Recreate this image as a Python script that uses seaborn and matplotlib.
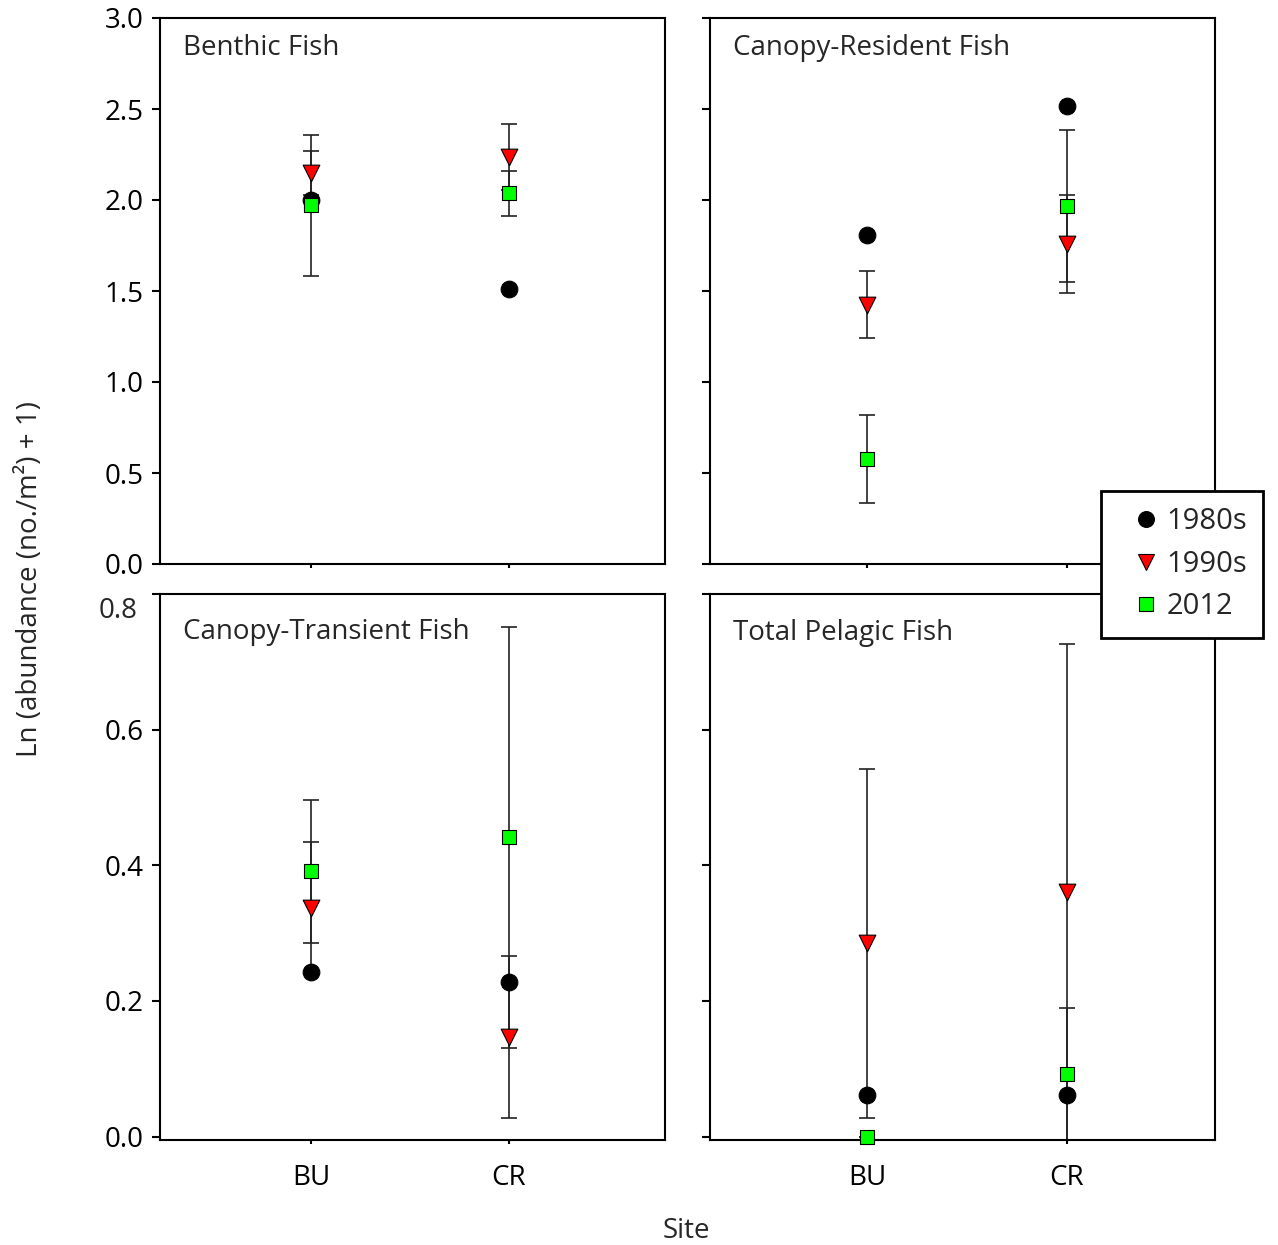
import matplotlib
matplotlib.use("Agg")
import matplotlib.pyplot as plt
from matplotlib.lines import Line2D
import pandas as pd
import seaborn as sns

# ---- data -------------------------------------------------------------
sites = ["BU", "CR"]
periods = ["1980s", "1990s", "2012"]
panels = ["Benthic Fish", "Canopy-Resident Fish",
          "Canopy-Transient Fish", "Total Pelagic Fish"]

# mean Ln(abundance + 1) at BU, CR
benthic_1980s = [2.00, 1.51]
benthic_1990s = [2.15, 2.235]
benthic_2012 = [1.97, 2.037]
resident_1980s = [1.81, 2.515]
resident_1990s = [1.425, 1.76]
resident_2012 = [0.577, 1.967]
transient_1980s = [0.243, 0.228]
transient_1990s = [0.337, 0.147]
transient_2012 = [0.391, 0.441]
pelagic_1980s = [0.062, 0.062]
pelagic_1990s = [0.285, 0.36]
pelagic_2012 = [0.0, 0.092]

# error half-widths (1980s surveys have no error estimate)
benthic_1990s_err = [0.12, 0.18]
benthic_2012_err = [0.385, 0.125]
resident_1990s_err = [0.185, 0.27]
resident_2012_err = [0.24, 0.418]
transient_1990s_err = [0.097, 0.12]
transient_2012_err = [0.106, 0.311]
pelagic_1990s_err = [0.257, 0.367]
pelagic_2012_err = [0.0, 0.097]

series = {
    "Benthic Fish": [(benthic_1980s, None), (benthic_1990s, benthic_1990s_err),
                     (benthic_2012, benthic_2012_err)],
    "Canopy-Resident Fish": [(resident_1980s, None), (resident_1990s, resident_1990s_err),
                             (resident_2012, resident_2012_err)],
    "Canopy-Transient Fish": [(transient_1980s, None), (transient_1990s, transient_1990s_err),
                              (transient_2012, transient_2012_err)],
    "Total Pelagic Fish": [(pelagic_1980s, None), (pelagic_1990s, pelagic_1990s_err),
                           (pelagic_2012, pelagic_2012_err)],
}

rows = []
for panel in panels:
    for period, (means, errs) in zip(periods, series[panel]):
        for i, site in enumerate(sites):
            rows.append({"panel": panel, "period": period, "site": site, "x": i,
                         "mean": means[i],
                         "err": None if errs is None else errs[i]})
df = pd.DataFrame(rows)

# ---- styling ----------------------------------------------------------
sns.set_theme(style="white")
plt.rcParams["font.family"] = ["Open Sans", "DejaVu Sans"]
plt.rcParams["axes.edgecolor"] = "black"
plt.rcParams["axes.linewidth"] = 1.5

colors = {"1980s": "black", "1990s": "#ff0000", "2012": "#00ff00"}
markers = {"1980s": "o", "1990s": "v", "2012": "s"}
msize = {"1980s": 12.0, "1990s": 12.0, "2012": 10.0}   # marker size in points

W, H = 1278, 1245
fig = plt.figure(figsize=(W / 100, H / 100), dpi=100)


def rect(x0, y0, x1, y1):
    return [x0 / W, 1 - y1 / H, (x1 - x0) / W, (y1 - y0) / H]


layout = {
    "Benthic Fish": rect(160, 18, 665, 564),
    "Canopy-Resident Fish": rect(710, 18, 1215, 564),
    "Canopy-Transient Fish": rect(160, 594, 665, 1140),
    "Total Pelagic Fish": rect(710, 594, 1215, 1140),
}
title_y = {"Benthic Fish": 0.945, "Canopy-Resident Fish": 0.945,
           "Canopy-Transient Fish": 0.930, "Total Pelagic Fish": 0.928}

for k, panel in enumerate(panels):
    ax = fig.add_axes(layout[panel])
    sub = df[df.panel == panel]
    for period in periods:
        s = sub[sub.period == period]
        if s["err"].notna().all():
            ax.errorbar(s["x"], s["mean"], yerr=s["err"].astype(float), fmt="none",
                        ecolor="#222222", elinewidth=1.2, capsize=6, capthick=1.2,
                        zorder=2)
        sns.scatterplot(data=s, x="x", y="mean", marker=markers[period],
                        color=colors[period], s=msize[period] ** 2,
                        edgecolor="black", linewidth=0.8, ax=ax, zorder=3,
                        clip_on=False, legend=False)

    top = k < 2
    left = k % 2 == 0
    if left:
        ax.set_xlim(-0.763, 1.788)
    else:
        ax.set_xlim(-0.785, 1.74)
    ax.set_xticks([0, 1])
    ax.set_xlabel("")
    ax.set_ylabel("")
    if top:
        ax.set_ylim(0, 3.0)
        ax.set_yticks([0, 0.5, 1.0, 1.5, 2.0, 2.5, 3.0])
        ax.set_yticklabels(["0.0", "0.5", "1.0", "1.5", "2.0", "2.5", "3.0"])
    else:
        ax.set_ylim(-0.005, 0.8)
        ax.set_yticks([0, 0.2, 0.4, 0.6, 0.8])
        ax.set_yticklabels(["0.0", "0.2", "0.4", "0.6", ""])
        if left:
            ax.annotate("0.8", xy=(0, 0.8), xycoords=("axes fraction", "data"),
                        xytext=(-16, -12.5), textcoords="offset points",
                        ha="right", va="center", fontsize=20)
    ax.set_xticklabels(sites)
    ax.tick_params(axis="y", which="major", direction="out", length=6, width=1.5,
                   left=True, labelsize=20, pad=6, labelleft=left, colors="black")
    ax.tick_params(axis="x", which="major", direction="out", length=3, width=1.5,
                   bottom=True, labelsize=20, pad=14, labelbottom=not top,
                   colors="black")
    for sp in ax.spines.values():
        sp.set_visible(True)
        sp.set_color("black")
        sp.set_linewidth(1.5)
    ax.text(0.045, title_y[panel], panel, transform=ax.transAxes,
            ha="left", va="center", fontsize=20)

fig.text(0.0235, 0.535, "Ln (abundance (no./m²) + 1)", rotation=90,
         ha="center", va="center", fontsize=20)
fig.text(0.537, 0.011, "Site", ha="center", va="center", fontsize=20)

handles = [Line2D([], [], linestyle="none", marker=markers[p],
                  markerfacecolor=colors[p], markeredgecolor="black",
                  markeredgewidth=0.8, markersize=msize[p] * 0.95)
           for p in periods]
leg = fig.legend(handles, periods, loc="upper left",
                 bbox_to_anchor=(1101 / W, 1 - 491 / H), bbox_transform=fig.transFigure,
                 frameon=True, fancybox=False, shadow=False, fontsize=21,
                 borderpad=0.55, handlelength=2.0, handletextpad=-0.3,
                 labelspacing=0.47, borderaxespad=0, numpoints=1)
leg.get_frame().set_edgecolor("black")
leg.get_frame().set_linewidth(2.0)
leg.get_frame().set_facecolor("white")
leg.get_frame().set_alpha(1.0)

fig.savefig("out.png", dpi=100)
